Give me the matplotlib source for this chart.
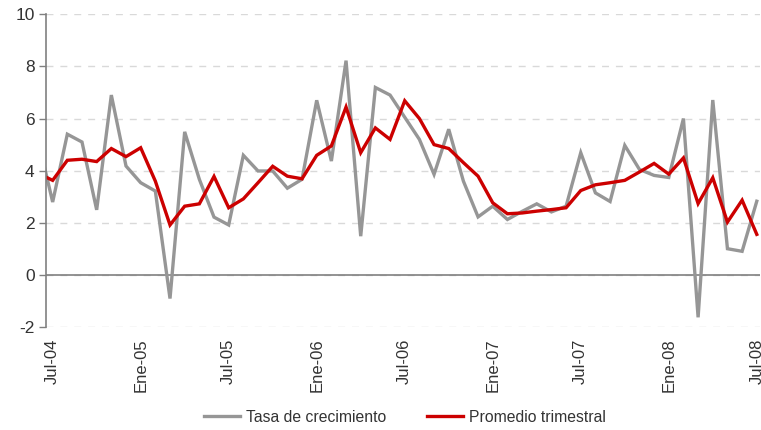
import numpy as np
import matplotlib
matplotlib.use("Agg")
import matplotlib.pyplot as plt

plt.rcParams['font.family'] = ['Liberation Sans', 'DejaVu Sans']
plt.rcParams['axes.unicode_minus'] = False

# meses de Jun-04 a Jul-08
meses_es = ['Ene', 'Feb', 'Mar', 'Abr', 'May', 'Jun', 'Jul', 'Ago', 'Sep', 'Oct', 'Nov', 'Dic']
periodos = [f"{meses_es[(m - 1) % 12]}-{(2004 + (m - 1) // 12) % 100:02d}" for m in range(6, 6 + 50)]

tasa = [5.2, 2.8, 5.4, 5.1, 2.5, 6.9, 4.18, 3.54, 3.22, -0.9, 5.49, 3.67, 2.22,
        1.92, 4.59, 3.99, 3.99, 3.33, 3.67, 6.7, 4.37, 8.22, 1.49, 7.19, 6.9,
        6.05, 5.2, 3.86, 5.59, 3.6, 2.23, 2.64, 2.13, 2.44, 2.73, 2.42, 2.64,
        4.69, 3.15, 2.82, 4.97, 4.05, 3.82, 3.74, 6.0, -1.62, 6.71, 1.01, 0.91, 2.83]

promedio = [3.9, 3.63, 4.4, 4.44, 4.35, 4.85, 4.54, 4.88, 3.6, 1.92, 2.64, 2.73, 3.78,
            2.58, 2.92, 3.54, 4.17, 3.79, 3.69, 4.59, 4.95, 6.44, 4.69, 5.64, 5.2,
            6.68, 6.0, 5.0, 4.85, 4.31, 3.79, 2.77, 2.35, 2.38, 2.45, 2.51, 2.58,
            3.24, 3.46, 3.54, 3.63, 3.95, 4.28, 3.87, 4.49, 2.74, 3.73, 2.03, 2.87, 1.56]

x = np.arange(len(periodos))

fig = plt.figure(figsize=(7.61, 4.30), dpi=100)
ax = fig.add_axes([0.060, 0.239, 0.9387, 0.728])

ax.plot(x, tasa, color='#969696', lw=2.4, label='Tasa de crecimiento', solid_joinstyle='miter')
ax.plot(x, promedio, color='#cc0000', lw=2.4, label='Promedio trimestral', solid_joinstyle='miter')

ax.set_xlim(0.523, 49.22)
ax.set_ylim(-2, 10)
ax.set_yticks(range(-2, 11, 2))
ax.grid(axis='y', color='#d9d9d9', linestyle=(0, (5, 5)), lw=1)
ax.set_axisbelow(True)
ax.axhline(0, color='#808080', lw=1.2, zorder=1.5)

tick_pos = x[1::6]
ax.set_xticks(tick_pos)
ax.set_xticklabels([periodos[i] for i in tick_pos], rotation=90, va='top', ha='center')
ax.tick_params(axis='x', length=0, pad=8, labelsize=12, labelcolor='#333333')
ax.tick_params(axis='y', length=5, width=1, color='#808080', labelsize=12.5,
               labelcolor='#333333', pad=3)

for s in ['top', 'right', 'bottom']:
    ax.spines[s].set_visible(False)
ax.spines['left'].set_color('#808080')
ax.spines['left'].set_linewidth(1.2)

fig.legend(loc='center', bbox_to_anchor=(0.532, 0.03), ncol=2, frameon=False,
           fontsize=11.3, handlelength=2.3, handletextpad=0.35, columnspacing=2.6,
           labelcolor='#333333')

fig.savefig('out.png', dpi=100)
